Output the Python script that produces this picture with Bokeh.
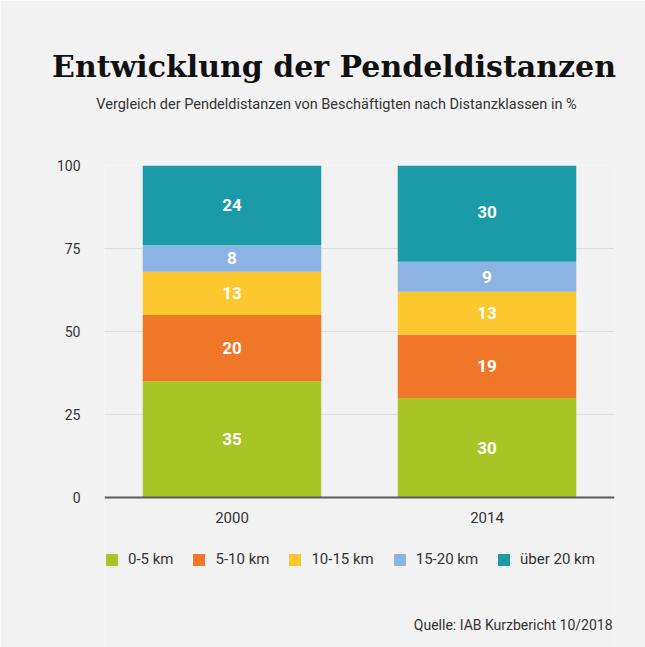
from bokeh.plotting import figure
from bokeh.models import (ColumnDataSource, Title, Legend, LegendItem,
                          FixedTicker, Range1d, Span, Label)
from bokeh.core.properties import value
from bokeh.embed import file_html
from bokeh.resources import INLINE

# ---- data ----
years = ["2000", "2014"]
classes = ["0-5 km", "5-10 km", "10-15 km", "15-20 km", "über 20 km"]
km_0_5 = [35, 30]
km_5_10 = [20, 19]
km_10_15 = [13, 13]
km_15_20 = [8, 9]
km_20_plus = [24, 30]
colors = ["#a9c425", "#f07628", "#fdc82f", "#8db3e2", "#1b9aa8"]
y_ticks = [0, 25, 50, 75, 100]

series = [km_0_5, km_5_10, km_10_15, km_15_20, km_20_plus]
data = {"year": years}
for c, s in zip(classes, series):
    data[c] = s
src = ColumnDataSource(data)

BG = "#f2f2f2"
TXT = "#333333"

# frame: 165px..647px tall; 100 units span 332px -> extra room below 0
Y_MIN = -(482 - 332) / 3.32

p = figure(x_range=years, y_range=Range1d(Y_MIN, 100), width=645, height=647,
           output_backend="svg", toolbar_location=None, x_axis_location=None,
           min_border_left=104, min_border_right=31,
           min_border_top=165, min_border_bottom=0,
           background_fill_color=BG, border_fill_color=BG)
p.outline_line_color = None
p.x_range.range_padding = 0

rs = p.vbar_stack(classes, x="year", width=0.7, color=colors, source=src,
                  line_width=0)

# value labels
lx, ly, lt = [], [], []
for i, yr in enumerate(years):
    base = 0
    for s in series:
        v = s[i]
        lx.append(yr)
        ly.append(base + v / 2)
        lt.append(str(v))
        base += v
lsrc = ColumnDataSource(dict(x=lx, y=ly, t=lt))
p.text(x="x", y="y", text="t", source=lsrc, text_color="white",
       text_font=value("Roboto"), text_font_style="bold",
       text_font_size="17px", text_align="center", text_baseline="middle")

# category labels under the baseline
csrc = ColumnDataSource(dict(x=years, y=[-5.9] * len(years), t=years))
p.text(x="x", y="y", text="t", source=csrc, text_color=TXT,
       text_font=value("Roboto"), text_font_size="15px",
       text_align="center", text_baseline="middle")

# baseline
p.add_layout(Span(location=0, dimension="width", line_color="#5a5a5a",
                  line_width=2))

# y axis
p.yaxis.ticker = FixedTicker(ticks=y_ticks)
p.yaxis.axis_line_color = None
p.yaxis.major_tick_line_color = None
p.yaxis.minor_tick_line_color = None
p.yaxis.major_label_standoff = 18
p.yaxis.major_label_text_font = "Roboto"
p.yaxis.major_label_text_font_size = "14px"
p.yaxis.major_label_text_color = TXT

p.xgrid.grid_line_color = None
p.ygrid.ticker = FixedTicker(ticks=y_ticks)
p.ygrid.grid_line_color = "#dcdcdc"

# legend
items = [LegendItem(label=c, renderers=[r]) for c, r in zip(classes, rs)]
leg = Legend(items=items, orientation="horizontal", location=(0, 79),
             glyph_width=15, glyph_height=15, label_height=15,
             label_standoff=9, spacing=18, padding=0, margin=0,
             border_line_color=None, background_fill_alpha=0,
             label_text_font="Roboto", label_text_font_size="15px",
             label_text_color=TXT)
p.add_layout(leg, "center")

# source
p.add_layout(Label(x=508, y=23, x_units="screen", y_units="screen",
                   text="Quelle: IAB Kurzbericht 10/2018",
                   text_font="Roboto", text_font_size="14px",
                   text_color=TXT, text_align="right",
                   text_baseline="middle"))

# subtitle (closest to frame) and title
p.add_layout(Title(text="Vergleich der Pendeldistanzen von Beschäftigten nach Distanzklassen in %",
                   align="center",
                   text_font="Roboto", text_font_size="14.5px",
                   text_font_style="normal", text_color=TXT,
                   standoff=0, padding=dict(top=0, right=46, bottom=53, left=0)),
             "above")
p.add_layout(Title(text="Entwicklung der Pendeldistanzen",
                   align="center",
                   text_font="DejaVu Serif", text_font_size="30px",
                   text_font_style="bold", text_color="#111111",
                   standoff=0, padding=dict(top=0, right=51, bottom=10, left=0)),
             "above")

open("out.html", "w").write(file_html(p, INLINE))
